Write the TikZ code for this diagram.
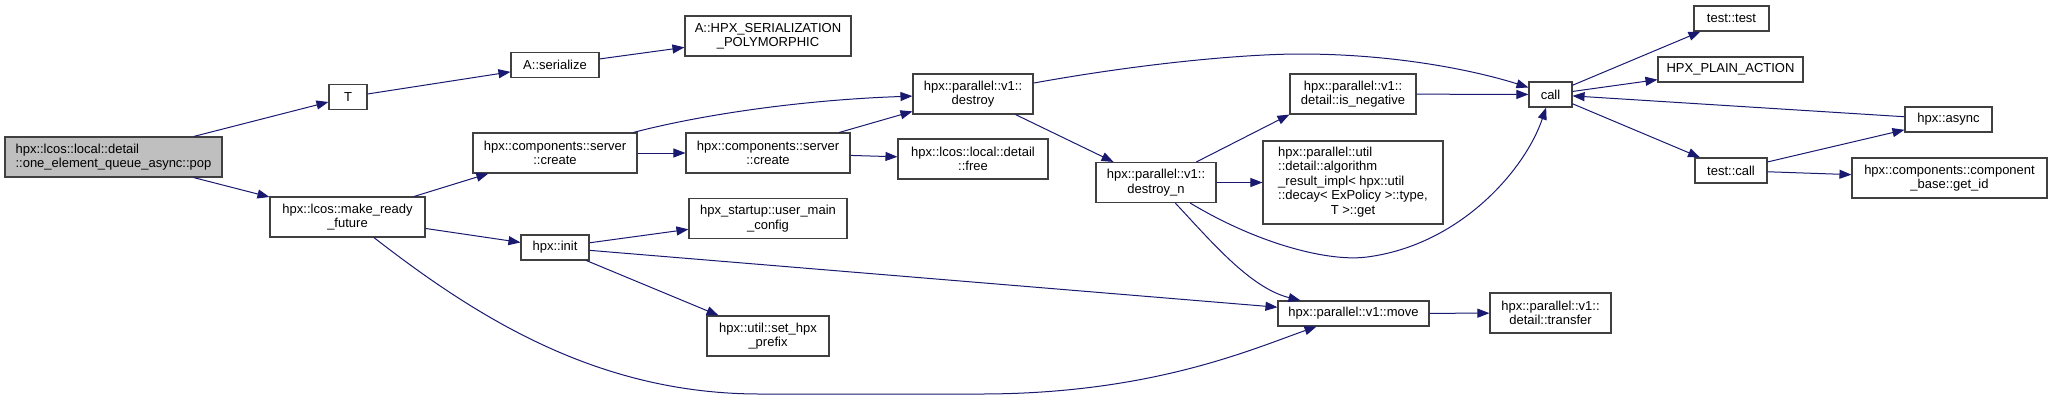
\documentclass[tikz,border=0pt]{standalone}
\usepackage{fontspec}
\setmainfont{Liberation Sans}
\usetikzlibrary{arrows.meta}
\definecolor{link}{HTML}{191970}
\definecolor{frame}{HTML}{404040}
\definecolor{rootfill}{HTML}{BFBFBF}
\tikzset{
  fn/.style={draw=frame,line width=1.1pt,fill=white,align=center,inner sep=2pt,minimum height=25pt,font=\fontsize{13}{14.5}\selectfont},
  tall/.style={minimum height=40pt},
  root/.style={fn,fill=rootfill},
  arr/.style={-{Triangle[length=12pt,width=9pt]},line width=1pt,draw=link},
}
\begin{document}
\begin{tikzpicture}[x=1pt,y=-1pt]
\useasboundingbox (0,0) rectangle (2052,400);
% call graph, left to right
\node[root,tall,align=left,minimum width=217pt] (pop) at (113.5,157) {hpx::lcos::local::detail\\::one\_element\_queue\_async::pop};
\node[fn,minimum width=38pt] (T) at (348,97) {T};
\node[fn,minimum width=88pt] (ser) at (555,65) {A::serialize};
\node[fn,tall,minimum width=166pt] (hps) at (768,36) {A::HPX\_SERIALIZATION\\\_POLYMORPHIC};
\node[fn,tall,minimum width=155pt] (mrf) at (347.5,217) {hpx::lcos::make\_ready\\\_future};
\node[fn,tall,minimum width=164pt] (cr1) at (555,153) {hpx::components::server\\::create};
\node[fn,tall,minimum width=164pt] (cr2) at (768,153) {hpx::components::server\\::create};
\node[fn,minimum width=68pt] (init) at (555,247.5) {hpx::init};
\node[fn,tall,minimum width=158pt] (umc) at (768,218.5) {hpx\_startup::user\_main\\\_config};
\node[fn,tall,minimum width=122pt] (pfx) at (768,336) {hpx::util::set\_hpx\\\_prefix};
\node[fn,tall,minimum width=120pt] (dst) at (973,94) {hpx::parallel::v1::\\destroy};
\node[fn,tall,minimum width=150pt] (free) at (973,159) {hpx::lcos::local::detail\\::free};
\node[fn,tall,minimum width=120pt] (dn) at (1156,182.5) {hpx::parallel::v1::\\destroy\_n};
\node[fn,tall,minimum width=126pt] (isneg) at (1353,94) {hpx::parallel::v1::\\detail::is\_negative};
\node[fn,minimum width=180pt,minimum height=83pt] (alg) at (1353,182.5) {\begin{tabular}{@{}l@{}}hpx::parallel::util\\::detail::algorithm\\\_result\_impl< hpx::util\\::decay< ExPolicy >::type,\\\multicolumn{1}{@{}c@{}}{T >::get}\end{tabular}};
\node[fn,minimum width=151pt] (move) at (1353.5,313.5) {hpx::parallel::v1::move};
\node[fn,tall,minimum width=121pt] (trf) at (1550.5,313) {hpx::parallel::v1::\\detail::transfer};
\node[fn,minimum width=43pt] (call) at (1550.5,94.5) {call};
\node[fn,minimum width=75pt] (tt) at (1731.5,18.5) {test::test};
\node[fn,minimum width=145pt] (hpa) at (1730.5,69.5) {HPX\_PLAIN\_ACTION};
\node[fn,minimum width=87pt] (async) at (1948.5,119.5) {hpx::async};
\node[fn,minimum width=72pt] (tcall) at (1731,170.5) {test::call};
\node[fn,tall,minimum width=195pt] (gid) at (1949.5,178) {hpx::components::component\\\_base::get\_id};
% edges
\draw[arr] (pop) -- (T);
\draw[arr] (pop) -- (mrf);
\draw[arr] (T) -- (ser);
\draw[arr] (ser) -- (hps);
\draw[arr] (mrf) -- (cr1);
\draw[arr] (mrf) -- (init);
\draw[arr] (mrf) .. controls (480,320) and (600,394) .. (760,394) -- (980,394) .. controls (1150,394) and (1250,350) .. (move);
\draw[arr] (cr1) .. controls (700,115) and (800,100) .. (dst);
\draw[arr] (cr1) -- (cr2);
\draw[arr] (cr2) -- (dst);
\draw[arr] (cr2) -- (free);
\draw[arr] (init) -- (umc);
\draw[arr] (init) -- (move);
\draw[arr] (init) -- (pfx);
\draw[arr] (dst) .. controls (1150,62) and (1250,54) .. (1300,54) .. controls (1400,54) and (1480,72) .. (call);
\draw[arr] (dst) -- (dn);
\draw[arr] (dn) -- (isneg.south west);
\draw[arr] (dn) -- (alg);
\draw[arr] (dn) .. controls (1260,245) and (1330,262) .. (1367,257) .. controls (1460,245) and (1525,170) .. (call);
\draw[arr] (dn) .. controls (1210,240) and (1250,288) .. (move);
\draw[arr] (isneg) -- (call);
\draw[arr] (call) -- (tt);
\draw[arr] (call) -- (hpa);
\draw[arr] (call) -- (tcall);
\draw[arr] (async) -- (call);
\draw[arr] (tcall) -- (async);
\draw[arr] (tcall) -- (gid);
\draw[arr] (move) -- (trf);
\end{tikzpicture}
\end{document}
